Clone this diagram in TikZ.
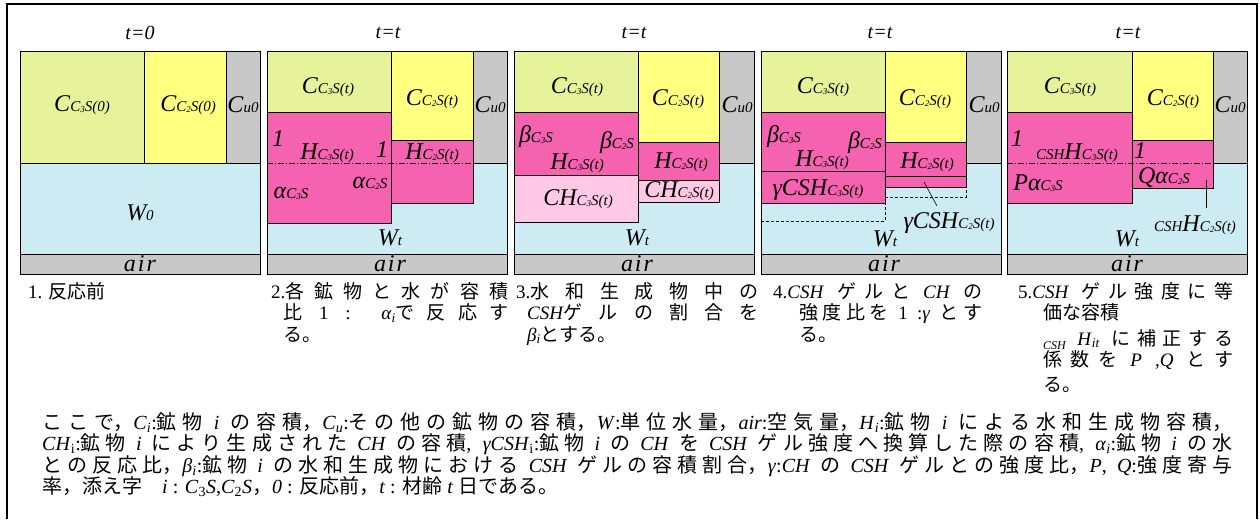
\documentclass[tikz,border=0pt]{standalone}
\usepackage{fontspec}
\setmainfont{Liberation Serif}
\newfontfamily\jp{Noto Sans CJK JP}
\XeTeXlinebreaklocale "ja"
\XeTeXlinebreakskip=0pt plus 1fil
\definecolor{c3s}{RGB}{230,243,154}
\definecolor{c2s}{RGB}{255,255,128}
\definecolor{gr}{RGB}{200,200,200}
\definecolor{wat}{RGB}{204,235,242}
\definecolor{pk}{RGB}{245,98,176}
\definecolor{lpk}{RGB}{255,200,228}
\newcommand\J[1]{{\jp #1}}
\newcommand\labL[1]{{\fontsize{24}{24}\selectfont\itshape #1}}
\newcommand\labS[1]{{\fontsize{15}{15}\selectfont\itshape #1}}
\newcommand\labN[1]{\raisebox{-1pt}{\fontsize{9}{9}\selectfont #1}}
\newcommand\labC[1]{C\labN{#1}S}
\newcommand\labT[1]{{\fontsize{20}{20}\selectfont\itshape #1}}
\newcommand\labAir{\labL{a\kern2pt i\kern2pt r}}
\newcommand\capfont{\fontsize{19}{21.5}\selectfont\parfillskip=0pt plus 1fill\spaceskip=0.25em plus 1fil\relax}
\newcommand\notefont{\fontsize{20}{21.5}\selectfont\parfillskip=0pt plus 1fill\spaceskip=0.25em plus 1fil\relax}
\newcommand\sbi[1]{\textsubscript{\textit{#1}}}
\tikzset{
  area/.style={draw=black, line width=0.7pt},
  lbl/.style={inner sep=0pt},
  captext/.style={inner sep=0pt, anchor=base west},
  dd/.style={line width=0.6pt, dash pattern=on 6pt off 2pt on 1pt off 2pt},
  dsh/.style={line width=0.6pt, dash pattern=on 3pt off 2pt},
  leader/.style={line width=0.6pt},
}
\begin{document}
\begin{tikzpicture}[x=1pt,y=-1pt]
\useasboundingbox (0,0) rectangle (1260,519);
\draw[line width=1.6pt] (7,519) -- (7,4) -- (1257,4) -- (1257,519);

% ---------- panel 1
\begin{scope}[xshift=20pt]
\filldraw[area,fill=wat] (0,163) rectangle (240,254);
\filldraw[area,fill=gr] (0,254) rectangle (240,274);
\filldraw[area,fill=c3s] (0,51) rectangle (124,163);
\filldraw[area,fill=c2s] (124,51) rectangle (206,163);
\filldraw[area,fill=gr] (206,51) rectangle (240,163);
\node[lbl] (a1t) at (120,33) {\labT{t=0}};
\node[lbl] (a1c3) at (62,105) {\labL{C}\labS{\labC{3}(0)}};
\node[lbl] (a1c2) at (168,105) {\labL{C}\labS{\labC{2}(0)}};
\node[lbl] (a1cu) at (223,105) {\labL{C}\labS{u0}};
\node[lbl] (a1w) at (120,213) {\labL{W}\labS{0}};
\node[lbl] (a1air) at (120,264) {\labAir};
\end{scope}

% ---------- panel 2
\begin{scope}[xshift=267pt]
\filldraw[area,fill=wat] (0,163) rectangle (240,254);
\filldraw[area,fill=gr] (0,254) rectangle (240,274);
\filldraw[area,fill=gr] (206,51) rectangle (240,163);
\filldraw[area,fill=c3s] (0,51) rectangle (124,112);
\filldraw[area,fill=pk] (0,112) rectangle (124,223);
\filldraw[area,fill=c2s] (124,51) rectangle (206,140);
\filldraw[area,fill=pk] (124,140) rectangle (206,203);
\draw[dd] (0,163) -- (206,163);
\node[lbl] (a2t) at (121,33) {\labT{t=t}};
\node[lbl] (a2c3) at (61,87) {\labL{C}\labS{\labC{3}(t)}};
\node[lbl] (a2c2) at (165,99) {\labL{C}\labS{\labC{2}(t)}};
\node[lbl] (a2cu) at (223,105) {\labL{C}\labS{u0}};
\node[lbl] (a2one) at (11,139) {\labL{1}};
\node[lbl] (a2h3) at (60,153) {\labL{H}\labS{\labC{3}(t)}};
\node[lbl] (a2onb) at (115,150) {\labL{1}};
\node[lbl] (a2h2) at (165,153) {\labL{H}\labS{\labC{2}(t)}};
\node[lbl] (a2al3) at (24,193) {\labL{α}\labS{\labC{3}}};
\node[lbl] (a2al2) at (103,183) {\labL{α}\labS{\labC{2}}};
\node[lbl] (a2w) at (123,238) {\labL{W}\labS{t}};
\node[lbl] (a2air) at (123,264) {\labAir};
\end{scope}

% ---------- panel 3
\begin{scope}[xshift=514pt]
\filldraw[area,fill=wat] (0,163) rectangle (240,254);
\filldraw[area,fill=gr] (0,254) rectangle (240,274);
\filldraw[area,fill=gr] (205,51) rectangle (240,163);
\filldraw[area,fill=c3s] (0,51) rectangle (124,112);
\filldraw[area,fill=pk] (0,112) rectangle (124,175);
\filldraw[area,fill=lpk] (0,175) rectangle (124,222);
\filldraw[area,fill=c2s] (124,51) rectangle (205,142);
\filldraw[area,fill=pk] (124,142) rectangle (205,180);
\filldraw[area,fill=lpk] (124,180) rectangle (205,202);
\node[lbl] (a3t) at (120,33) {\labT{t=t}};
\node[lbl] (a3c3) at (63,87) {\labL{C}\labS{\labC{3}(t)}};
\node[lbl] (a3c2) at (164,99) {\labL{C}\labS{\labC{2}(t)}};
\node[lbl] (a3cu) at (223,105) {\labL{C}\labS{u0}};
\node[lbl] (a3b3) at (22,137) {\labL{β}\labS{\labC{3}}};
\node[lbl] (a3b2) at (103,143) {\labL{β}\labS{\labC{2}}};
\node[lbl] (a3h3) at (63,163) {\labL{H}\labS{\labC{3}(t)}};
\node[lbl] (a3h2) at (167,162) {\labL{H}\labS{\labC{2}(t)}};
\node[lbl] (a3ch3) at (64,199) {\labL{CH}\labS{\labC{3}(t)}};
\node[lbl] (a3ch2) at (165,191) {\labL{CH}\labS{\labC{2}(t)}};
\node[lbl] (a3w) at (123,238) {\labL{W}\labS{t}};
\node[lbl] (a3air) at (123,264) {\labAir};
\end{scope}

% ---------- panel 4
\begin{scope}[xshift=761pt]
\filldraw[area,fill=wat] (0,163) rectangle (240,254);
\filldraw[area,fill=gr] (0,254) rectangle (240,274);
\filldraw[area,fill=gr] (205,51) rectangle (240,163);
\filldraw[area,fill=c3s] (0,51) rectangle (124,112);
\filldraw[area,fill=pk] (0,112) rectangle (124,171);
\filldraw[area,fill=pk] (0,171) rectangle (124,203);
\draw[dsh] (0,221) -- (124,221) -- (124,203);
\filldraw[area,fill=c2s] (124,51) rectangle (205,142);
\filldraw[area,fill=pk] (124,142) rectangle (205,176);
\filldraw[area,fill=pk] (124,176) rectangle (205,187);
\draw[dsh] (124,187) -- (124,197) -- (205,197) -- (205,187);
\coordinate (l4a) at (163,182);
\coordinate (l4b) at (176,206);
\draw[leader] (l4a) -- (l4b);
\node[lbl] (a4t) at (119,33) {\labT{t=t}};
\node[lbl] (a4c3) at (62,87) {\labL{C}\labS{\labC{3}(t)}};
\node[lbl] (a4c2) at (164,99) {\labL{C}\labS{\labC{2}(t)}};
\node[lbl] (a4cu) at (223,105) {\labL{C}\labS{u0}};
\node[lbl] (a4b3) at (23,137) {\labL{β}\labS{\labC{3}}};
\node[lbl] (a4b2) at (104,143) {\labL{β}\labS{\labC{2}}};
\node[lbl] (a4h3) at (61,160) {\labL{H}\labS{\labC{3}(t)}};
\node[lbl] (a4h2) at (166,162) {\labL{H}\labS{\labC{2}(t)}};
\node[lbl] (a4g3) at (57,190) {\labL{γCSH}\labS{\labC{3}(t)}};
\node[lbl] (a4g2) at (188,223) {\labL{γCSH}\labS{\labC{2}(t)}};
\node[lbl] (a4w) at (124,239) {\labL{W}\labS{t}};
\node[lbl] (a4air) at (123,264) {\labAir};
\end{scope}

% ---------- panel 5
\begin{scope}[xshift=1007pt]
\filldraw[area,fill=wat] (0,163) rectangle (240,254);
\filldraw[area,fill=gr] (0,254) rectangle (240,274);
\filldraw[area,fill=gr] (206,51) rectangle (240,163);
\filldraw[area,fill=c3s] (0,51) rectangle (125,112);
\filldraw[area,fill=pk] (0,112) rectangle (125,203);
\filldraw[area,fill=c2s] (125,51) rectangle (206,140);
\filldraw[area,fill=pk] (125,140) rectangle (206,188);
\draw[dd] (0,163) -- (206,163);
\coordinate (l5a) at (199,180);
\coordinate (l5b) at (199,208);
\draw[leader] (l5a) -- (l5b);
\node[lbl] (a5t) at (121,33) {\labT{t=t}};
\node[lbl] (a5c3) at (63,87) {\labL{C}\labS{\labC{3}(t)}};
\node[lbl] (a5c2) at (166,99) {\labL{C}\labS{\labC{2}(t)}};
\node[lbl] (a5cu) at (223,105) {\labL{C}\labS{u0}};
\node[lbl] (a5one) at (10,139) {\labL{1}};
\node[lbl] (a5h3) at (70,153) {\labS{CSH}\labL{H}\labS{\labC{3}(t)}};
\node[lbl] (a5onb) at (133,151) {\labL{1}};
\node[lbl] (a5p) at (31,183) {\labL{Pα}\labS{\labC{3}}};
\node[lbl] (a5q) at (157,177) {\labL{Qα}\labS{\labC{2}}};
\node[lbl] (a5h2) at (188,225) {\labS{CSH}\labL{H}\labS{\labC{2}(t)}};
\node[lbl] (a5w) at (120,239) {\labL{W}\labS{t}};
\node[lbl] (a5air) at (120,264) {\labAir};
\end{scope}

% ---------- captions
\node[captext] (cap1) at (28,298) {\parbox[t]{200pt}{\capfont 1. \J{反応前}}};
\node[captext] (cap2) at (271,298) {\parbox[t]{237pt}{\capfont\hangindent=12pt\hangafter=1
 2.\J{各鉱物と水が容積}\break
 \J{比} 1 : \textit{α}\sbi{i}\J{で反応す}\break
 \J{る。}}};
\node[captext] (cap3) at (516,298) {\parbox[t]{242pt}{\capfont\hangindent=11pt\hangafter=1
 3.\J{水和生成物中の}\break
 \textit{CSH}\J{ゲルの割合を}\break
 \textit{β}\sbi{i}\J{とする。}}};
\node[captext] (cap4) at (773,298) {\parbox[t]{209pt}{\capfont\hangindent=26pt\hangafter=1
 4.\textit{CSH} \J{ゲルと} \textit{CH} \J{の}\break
 \J{強度比を} 1 :\textit{γ} \J{とす}\break
 \J{る。}}};
\node[captext] (cap5a) at (1018,298) {\parbox[t]{215pt}{\capfont\hangindent=25pt\hangafter=1
 5.\textit{CSH} \J{ゲル強度に等}\break
 \J{価な容積}}};
\node[captext] (cap5b) at (1043,345) {\parbox[t]{190pt}{\capfont
 \raisebox{-4pt}{\fontsize{12}{12}\selectfont\itshape CSH} \textit{H}\sbi{it} \J{に補正する}\break}};
\node[captext] (cap5c) at (1043,366) {\parbox[t]{190pt}{\capfont
 \J{係数を} \textit{P} ,\textit{Q} \J{とす}\break}};
\node[captext] (cap5d) at (1043,391) {\parbox[t]{190pt}{\capfont \J{る。}}};

% ---------- note
\node[captext] (note) at (42,429) {\parbox[t]{1190pt}{\notefont
\J{ここで，}\textit{C}\sbi{i}:\J{鉱物} \textit{i} \J{の容積，}\textit{C}\sbi{u}:\J{その他の鉱物の容積，}\textit{W}:\J{単位水量，}\textit{air}:\J{空気量，}\textit{H}\sbi{i}:\J{鉱物} \textit{i} \J{による水和生成物容積，}\break
\textit{CH}\textsubscript{i}:\J{鉱物} \textit{i} \J{により生成された} \textit{CH} \J{の容積}, \textit{γCSH}\textsubscript{i}:\J{鉱物} \textit{i} \J{の} \textit{CH} \J{を} \textit{CSH} \J{ゲル強度へ換算した際の容積}, \textit{α}\sbi{i}:\J{鉱物} \textit{i} \J{の水}\break
\J{との反応比，}\textit{β}\sbi{i}:\J{鉱物} \textit{i} \J{の水和生成物における} \textit{CSH} \J{ゲルの容積割合，}\textit{γ}:\textit{CH} \J{の} \textit{CSH} \J{ゲルとの強度比，}\textit{P}, \textit{Q}:\J{強度寄与}\break
\J{率，添え字}\quad\textit{i} : \textit{C}\textsubscript{3}\textit{S},\textit{C}\textsubscript{2}\textit{S}\J{，}\textit{0} : \J{反応前，}\textit{t} : \J{材齢} \textit{t} \J{日である。}}};
\end{tikzpicture}
\end{document}
